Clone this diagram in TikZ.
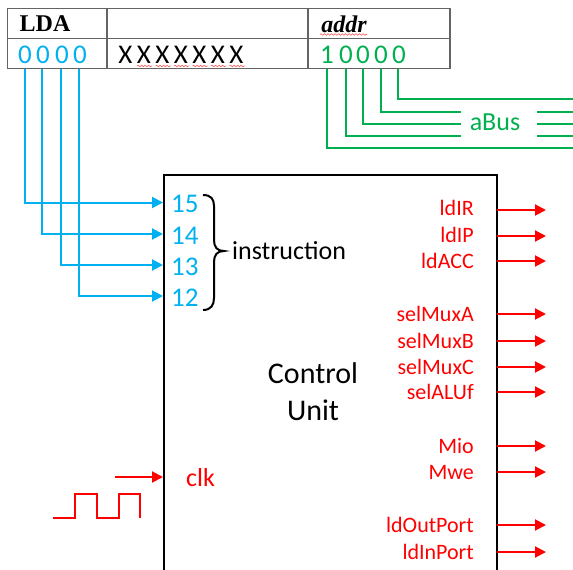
\documentclass[tikz,border=0pt]{standalone}
\usepackage{fontspec}
\setmainfont{Carlito}
\newfontfamily\tablefont{Liberation Serif}
\usetikzlibrary{decorations.pathmorphing, arrows.meta}
\definecolor{bluecolor}{RGB}{0,176,240}
\definecolor{greencolor}{RGB}{0,176,80}
\definecolor{redcolor}{RGB}{255,0,0}
\definecolor{tablecolor}{RGB}{100,100,100}

\begin{document}
\begin{tikzpicture}[x=1pt, y=-1pt, font=\fontsize{26}{28}\selectfont]
    % Define the styles for the table, the labels and the wires
    \tikzstyle{cell} = [draw=tablecolor, line width=1.3pt, minimum height=30pt, inner sep=0pt]
    \tikzstyle{headtext} = [font=\tablefont\bfseries\fontsize{24}{26}\selectfont, inner sep=0pt]
    \tikzstyle{bit} = [inner sep=0pt, text height=16pt, text depth=0pt]
    \tikzstyle{signal} = [font=\fontsize{22}{24}\selectfont, text=redcolor, anchor=east, inner sep=0pt, text height=14pt, text depth=0pt]
    \tikzstyle{wire} = [line width=2pt]
    \tikzstyle{arrowwire} = [wire, -{Triangle[length=11pt, width=11pt]}]
    \tikzstyle{squiggle} = [draw=red!70, line width=0.6pt, decorate, decoration={snake, amplitude=0.8pt, segment length=3.5pt}]

    \useasboundingbox (0,0) rectangle (573,570);

    % Instruction table
    \node[cell, minimum width=100pt] (opcode) at (57.5,23.5) {};
    \node[cell, minimum width=201pt] (empty) at (207.5,23.5) {};
    \node[cell, minimum width=142pt] (addr) at (379,23.5) {};
    \node[cell, minimum width=100pt] (opbits) at (57.5,53.5) {};
    \node[cell, minimum width=201pt] (dontcare) at (207.5,53.5) {};
    \node[cell, minimum width=142pt] (addrbits) at (379,53.5) {};
    \node[headtext] (ldaname) at (45,24) {LDA};
    \node[headtext, font=\tablefont\bfseries\itshape\fontsize{24}{26}\selectfont] (addrname) at (344,24) {addr};
    \draw[squiggle] (320,34.5) -- (367,34.5);

    % Don't care bits of the instruction
    \foreach \n/\x in {1/125.5, 2/144, 3/162.5, 4/181, 5/199.5, 6/218, 7/236.5}
        \node[bit, font=\fontsize{27}{28}\selectfont] (dc\n) at (\x,55) {X};
    \foreach \x in {137, 155.5, 174, 192.5, 211, 229.5}
        \draw[squiggle] (\x,66) -- +(15,0);

    % Opcode bits and the wires going to the control unit
    \foreach \pin/\x/\lx in {15/25/25, 14/42/43, 13/61/62, 12/79/80}
        \node[bit, text=bluecolor, font=\fontsize{27}{28}\selectfont] (bit\pin) at (\lx,55) {0};
    \foreach \pin/\x/\y in {15/25/202.5, 14/42/234, 13/61/265, 12/79/296} {
        \coordinate (top\pin) at (\x,68.5);
        \coordinate (in\pin) at (163,\y);
        \draw[arrowwire, bluecolor] (top\pin) |- (in\pin);
    }

    % Address bits and the address bus
    \foreach \name/\x/\lx/\val in {a/327/327/1, b/346/346/0, c/363/363/0, d/381/381/0, e/398/399/0}
        \node[bit, text=greencolor, font=\fontsize{27}{28}\selectfont] (addr\name) at (\lx,55) {\val};
    \foreach \name/\x/\y in {a/327/147.5, b/346/136, c/363/123.5, d/381/111.5, e/398/99} {
        \coordinate (atop\name) at (\x,68.5);
        \coordinate (aend\name) at (573,\y);
        \draw[wire, greencolor] (atop\name) |- (aend\name);
    }
    \node[fill=white, inner sep=0pt, minimum width=76pt, minimum height=32pt] (abusgap) at (499,122) {};
    \node[text=greencolor, inner sep=0pt] (abus) at (495,122) {aBus};

    % Control unit, its lower edge is cut off by the picture
    \draw[line width=2pt] (163.5,570) -- (163.5,174.5) -- (496.5,174.5) -- (496.5,570);
    \node[align=center, font=\fontsize{30}{37}\selectfont] (control) at (313,392) {Control \\ Unit};

    % Instruction inputs
    \foreach \pin/\y in {15/204, 14/236, 13/267, 12/298}
        \node[bit, text=bluecolor, anchor=west, font=\fontsize{27}{28}\selectfont] (pin\pin) at (171,\y) {\pin};
    \draw[line width=2pt] (203,195) .. controls (211,195) and (214,199) .. (214,206) -- (214,240) .. controls (214,247) and (217,251) .. (224,251) .. controls (217,251) and (214,255) .. (214,262) -- (214,298) .. controls (214,305) and (211,310) .. (203,310);
    \node[anchor=west, inner sep=0pt] (instruction) at (232,251) {instruction};

    % Clock input and its waveform
    \coordinate (clkstart) at (115,477);
    \coordinate (clkend) at (163,477);
    \draw[arrowwire, redcolor] (clkstart) -- (clkend);
    \node[signal, anchor=west, font=\fontsize{26}{28}\selectfont, text height=16pt] (clk) at (186,478) {clk};
    \draw[wire, redcolor] (53,518) -- (75,518) -- (75,494) -- (97,494) -- (97,518) -- (119,518) -- (119,494) -- (140,494) -- (140,518);

    % Control signals leaving the unit
    \foreach \name/\y/\ty in {ldIR/210/208, ldIP/236/235, ldACC/261/261, selMuxA/314/314, selMuxB/341/341, selMuxC/367/367, selALUf/392/392, Mio/446/446, Mwe/472/472, ldOutPort/525/525, ldInPort/552/552} {
        \node[signal] (\name) at (474,\ty) {\name};
        \coordinate (\name start) at (497,\y);
        \coordinate (\name end) at (546,\y);
        \draw[arrowwire, redcolor] (\name start) -- (\name end);
    }
\end{tikzpicture}
\end{document}
